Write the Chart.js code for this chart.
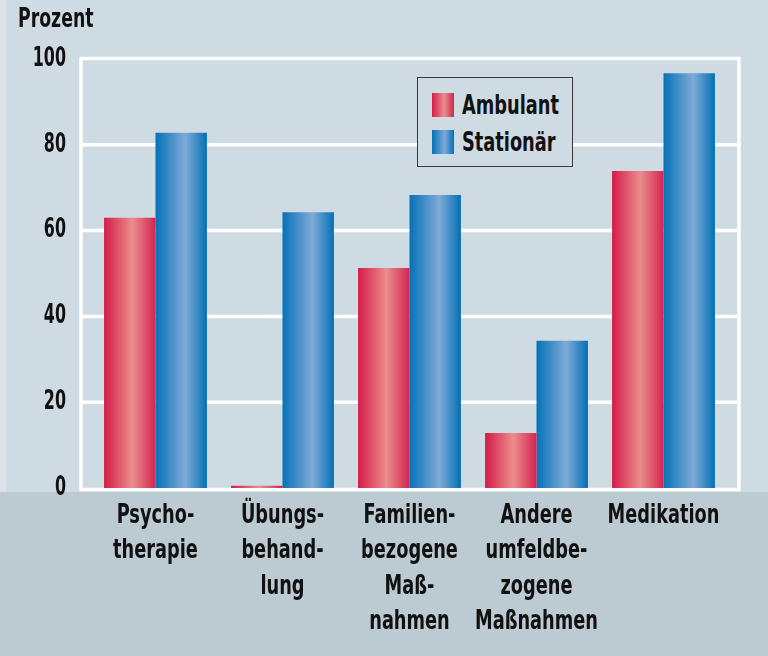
<!DOCTYPE html>
<html>
<head>
<meta charset="utf-8">
<script src="https://cdn.jsdelivr.net/npm/chart.js@4"></script>
<style>
  body { margin: 0; background: #cfdbe2; }
  #wrap { position: relative; width: 768px; height: 656px; font-family: "Liberation Sans Narrow", "DejaVu Sans Condensed", sans-serif; font-weight: bold; color: #111; }
  #prozent { position: absolute; left: 18px; top: 5px; font-size: 26px; line-height: 26px; transform: scaleX(0.74); transform-origin: 0 0; }
  #legend { position: absolute; left: 417px; top: 77px; width: 154px; height: 88px; border: 1px solid #3a3a3a; background: #cfdbe2; }
  .item { position: absolute; left: 14px; font-size: 26px; line-height: 26px; white-space: nowrap; }
  .item span.box { display: inline-block; width: 22px; height: 24px; vertical-align: -3px; margin-right: 8px; }
  .item span.txt { display: inline-block; transform: scaleX(0.76); transform-origin: 0 50%; }
</style>
</head>
<body>
<div id="wrap">
  <canvas id="barChart" width="768" height="656"></canvas>
  <div id="prozent">Prozent</div>
  <div id="legend"></div>
</div>
<script>
// chart data
const categories = [
  ['Psycho-', 'therapie'],
  ['Übungs-', 'behand-', 'lung'],
  ['Familien-', 'bezogene', 'Maß-', 'nahmen'],
  ['Andere', 'umfeldbe-', 'zogene', 'Maßnahmen'],
  ['Medikation']
];
const seriesNames = ['Ambulant', 'Stationär'];
const ambulant = [63, 0.5, 51.3, 12.8, 73.9];
const stationaer = [82.8, 64.3, 68.3, 34.3, 96.7];
const yTicks = [0, 20, 40, 60, 80, 100];

// gradient stops for the cylinder look
const redStops = [[0, '#d41c48'], [0.55, '#ea8d8c'], [1, '#d42450']];
const blueStops = [[0, '#0572b6'], [0.58, '#7eabd8'], [1, '#0470b4']];

function cssGradient(stops) {
  return 'linear-gradient(to right, ' + stops.map(s => s[1] + ' ' + (s[0] * 100) + '%').join(', ') + ')';
}

// legend in html
const legendEl = document.getElementById('legend');
[[seriesNames[0], redStops, 14], [seriesNames[1], blueStops, 51]].forEach(([name, stops, top]) => {
  const div = document.createElement('div');
  div.className = 'item';
  div.style.top = top + 'px';
  const box = document.createElement('span');
  box.className = 'box';
  box.style.background = cssGradient(stops);
  const txt = document.createElement('span');
  txt.className = 'txt';
  txt.textContent = name;
  div.appendChild(box);
  div.appendChild(txt);
  legendEl.appendChild(div);
});

// the narrow font is missing, so squeeze canvas text horizontally
const ctx = document.getElementById('barChart').getContext('2d');
const origFillText = ctx.fillText.bind(ctx);
ctx.fillText = function (text, x, y, maxWidth) {
  const k = /^\d+$/.test(String(text)) ? 0.68 : 0.76;
  ctx.save();
  ctx.translate(x, y);
  ctx.scale(k, 1);
  origFillText(text, 0, 0);
  ctx.restore();
};

// backgrounds, frame and gridlines
const framePlugin = {
  id: 'frame',
  beforeDraw(chart) {
    const c = chart.ctx;
    const y = chart.scales.y;
    const bottom = y.getPixelForValue(0);
    c.save();
    c.fillStyle = '#cfdbe2';
    c.fillRect(0, 0, chart.width, chart.height);
    c.fillStyle = '#dbe3e8';
    c.fillRect(0, 0, 6, chart.height);
    c.fillStyle = '#bccad2';
    c.fillRect(0, bottom + 4, chart.width, chart.height - bottom - 4);
    c.restore();
  },
  beforeDatasetsDraw(chart) {
    const c = chart.ctx;
    const area = chart.chartArea;
    const y = chart.scales.y;
    const left = area.left - 11;
    const right = area.right + 12;
    c.save();
    c.strokeStyle = '#ffffff';
    c.lineWidth = 3.5;
    yTicks.forEach(v => {
      if (v === 0 || v === 100) return;
      const py = y.getPixelForValue(v);
      c.beginPath();
      c.moveTo(left, py);
      c.lineTo(right, py);
      c.stroke();
    });
    const top = y.getPixelForValue(100) - 0.5;
    const bot = y.getPixelForValue(0) + 1.5;
    c.strokeRect(left, top, right - left, bot - top);
    c.restore();

    // per-bar horizontal gradients (options object is shared, so copy it)
    chart.data.datasets.forEach((ds, i) => {
      const stops = i === 0 ? redStops : blueStops;
      chart.getDatasetMeta(i).data.forEach(el => {
        const g = c.createLinearGradient(el.x - el.width / 2, 0, el.x + el.width / 2, 0);
        stops.forEach(s => g.addColorStop(s[0], s[1]));
        el.options = Object.assign({}, el.options, { backgroundColor: g });
      });
    });
  }
};

const tickFont = { family: '"Liberation Sans Narrow", "DejaVu Sans Condensed", sans-serif', size: 26, weight: 'bold' };

const config = {
  type: 'bar',
  data: {
    labels: categories,
    datasets: [
      { label: seriesNames[0], data: ambulant, backgroundColor: '#d41c48', borderWidth: 0 },
      { label: seriesNames[1], data: stationaer, backgroundColor: '#0572b6', borderWidth: 0 }
    ]
  },
  options: {
    responsive: false,
    animation: false,
    categoryPercentage: 0.81,
    barPercentage: 1.0,
    layout: { padding: { top: 59, right: 41, left: 0, bottom: 0 } },
    plugins: {
      legend: { display: false },
      title: { display: false },
      tooltip: { enabled: false }
    },
    scales: {
      x: {
        grid: { display: false, drawTicks: false },
        border: { display: false },
        ticks: { color: '#111', font: { ...tickFont, lineHeight: 1.35 }, padding: 11, maxRotation: 0, autoSkip: false },
        afterFit(scale) { scale.height = 168; }
      },
      y: {
        min: 0,
        max: 100,
        grid: { display: false, drawTicks: false },
        border: { display: false },
        ticks: { stepSize: 20, color: '#111', font: tickFont, padding: 26 },
        afterFit(scale) { scale.width = 92; }
      }
    }
  },
  plugins: [framePlugin]
};

const barChart = new Chart(ctx, config);
</script>
</body>
</html>
